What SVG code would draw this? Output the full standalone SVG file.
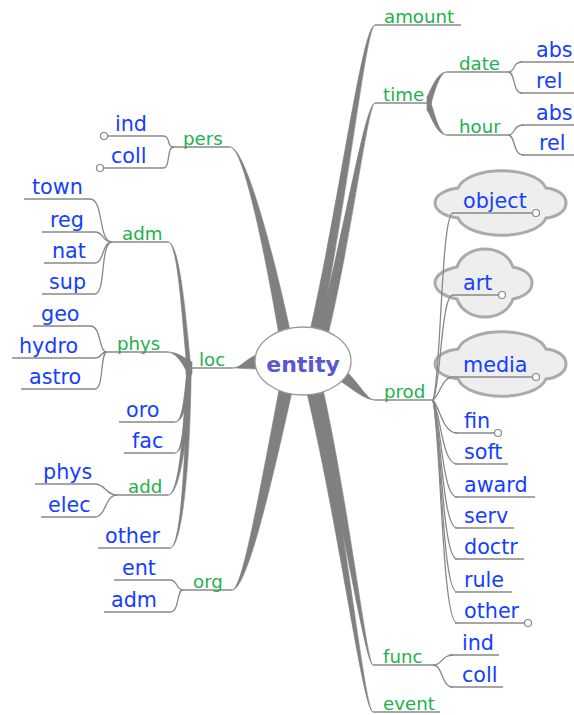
<svg xmlns="http://www.w3.org/2000/svg" width="574" height="715" viewBox="0 0 574 715">
<style>
.b{font-family:"DejaVu Sans",sans-serif;font-size:20.7px;fill:#1440ff}
.g{font-family:"DejaVu Sans",sans-serif;font-size:18.2px;fill:#22b14c}
.u{stroke:#888;stroke-width:1.3;fill:none}
.e{fill:#808080;stroke:#808080;stroke-width:0.6}
.c{fill:#fff;stroke:#888;stroke-width:1.2}
.cl{fill:#eeeeee;stroke:#aaaaaa;stroke-width:3}
</style>
<rect width="574" height="715" fill="#fff"/>
<g id="clouds">
<path class="cl" d="M435,203 C435,194 448,189 458,188 C468,165 536,165 546,188 C556,189 566,194 566,203 C566,212 556,217 546,218 C536,241 468,241 458,218 C448,217 435,212 435,203 Z"/>
<path class="cl" d="M435,283 C435,274 447,269 457,267 C465,243 505,243 513,267 C523,269 532,274 532,283 C532,292 523,297 513,299 C505,323 465,323 457,299 C447,297 435,292 435,283 Z"/>
<path class="cl" d="M435,364 C435,355 448,350 458,349 C468,326 536,326 546,349 C556,350 566,355 566,364 C566,373 556,378 546,379 C536,402 468,402 458,379 C448,378 435,373 435,364 Z"/>
</g>
<g id="connectors">
<path class="e" d="M230,147 C244,147 266,260 279,335 L291,335 C275,260 246,147 230,147 Z"/>
<path class="e" d="M375,25 C362,25 340,200 309,335 L319,335 C348,200 366,25 375,25 Z"/>
<path class="e" d="M375,103 C365,103 345,230 317,335 L328,335 C353,230 368,103 375,103 Z"/>
<path class="e" d="M375,400 C366,400 360,382 340,366 L336,378 C354,390 365,400 375,400 Z"/>
<path class="e" d="M232,368 C242,368 246,357 262,353 L262,369 C246,369 240,368 232,368 Z"/>
<path class="e" d="M232,590 C242,590 258,500 280,385 L293,387 C268,500 246,590 232,590 Z"/>
<path class="e" d="M373,665 C365,665 340,500 310,385 L322,385 C348,500 367,665 373,665 Z"/>
<path class="e" d="M373,712 C363,712 338,520 305,385 L317,385 C345,520 365,712 373,712 Z"/>
<rect class="e" x="186" y="362" width="6" height="12"/>
<path class="e" d="M168,242 C178,242 182,320 187,368 L191,368 C186,320 180,242 168,242 Z"/>
<path class="e" d="M168,352 C176,352 182,356 192,362 L188,374 C182,362 176,353 168,352 Z"/>
<path class="e" d="M175,422 C182,422 184,400 187,370 L191,370 C189,400 184,422 175,422 Z"/>
<path class="e" d="M175,453 C183,453 185,410 187,370 L191,370 C190,410 185,453 175,453 Z"/>
<path class="e" d="M168,495 C180,495 184,420 187,370 L191,370 C189,420 182,495 168,495 Z"/>
<path class="e" d="M170,548 C182,548 186,440 187,370 L191,370 C191,440 184,548 170,548 Z"/>
<rect class="e" x="427" y="97" width="4" height="13"/>
<path class="e" d="M447,72 C437,72 432,88 427,97 L431,104 C435,90 440,72 447,72 Z"/>
<path class="e" d="M447,135 C437,135 432,118 427,110 L431,103 C435,116 440,135 447,135 Z"/>
<path class="u" d="M508,72 C516,72 512,62 522,62"/>
<path class="u" d="M508,72 C516,72 512,93 522,93"/>
<path class="u" d="M508,135 C516,135 512,125 524,125"/>
<path class="u" d="M508,135 C516,135 512,155 524,155"/>
<path class="u" d="M163,136 C171,136 166,147 174,147"/>
<path class="u" d="M163,168 C171,168 166,147 174,147"/>
<path class="u" d="M90,199 C104,199 98,242 112,242"/>
<path class="u" d="M95,232 C104,232 102,242 112,242"/>
<path class="u" d="M95,263 C104,263 102,242 112,242"/>
<path class="u" d="M95,294 C106,294 100,242 112,242"/>
<path class="u" d="M90,326 C102,326 98,352 107,352"/>
<path class="u" d="M95,358 C102,358 100,352 107,352"/>
<path class="u" d="M95,389 C104,389 100,352 107,352"/>
<path class="u" d="M95,484 C106,484 105,495 117,495"/>
<path class="u" d="M95,517 C106,517 105,495 117,495"/>
<path class="u" d="M170,580 C178,580 176,590 183,590"/>
<path class="u" d="M170,612 C180,612 176,590 183,590"/>
<path class="u" d="M453,213 C441,213 441,380 433,400"/>
<path class="u" d="M453,295 C441,295 441,385 433,400"/>
<path class="u" d="M453,377 C442,377 440,395 433,400"/>
<path class="u" d="M457,433 C443,433 440,408 433,400"/>
<path class="u" d="M457,464 C442,464 441,415 433,400"/>
<path class="u" d="M457,497 C442,497 441,420 433,400"/>
<path class="u" d="M457,528 C442,528 441,425 433,400"/>
<path class="u" d="M457,559 C442,559 441,430 433,400"/>
<path class="u" d="M457,592 C442,592 441,435 433,400"/>
<path class="u" d="M457,623 C442,623 441,440 433,400"/>
<path class="u" d="M433,665 C443,665 441,655 453,655"/>
<path class="u" d="M433,665 C443,665 441,687 453,687"/>
</g>
<g id="entity">
<ellipse cx="303" cy="361" rx="48" ry="34" fill="#fff" stroke="#999" stroke-width="1.3"/>
<text x="303" y="372" text-anchor="middle" font-family="DejaVu Sans,sans-serif" font-size="22" font-weight="bold" fill="#5858d0">entity</text>
</g>
<g id="pers"><path class="u" d="M172,147H230"/><text class="g" x="183" y="145">pers</text></g>
<g id="pers-ind"><path class="u" d="M104,136H163"/><circle class="c" cx="104" cy="136" r="3.5"/><text class="b" x="115" y="131">ind</text></g>
<g id="pers-coll"><path class="u" d="M100,168H163"/><circle class="c" cx="100" cy="168" r="3.5"/><text class="b" x="111" y="163">coll</text></g>
<g id="loc"><path class="u" d="M190,368H232"/><text class="g" x="199" y="366">loc</text></g>
<g id="loc-adm"><path class="u" d="M110,242H168"/><text class="g" x="122" y="240">adm</text></g>
<g id="town"><path class="u" d="M24,199H90"/><text class="b" x="32" y="194">town</text></g>
<g id="reg"><path class="u" d="M42,232H95"/><text class="b" x="50" y="227">reg</text></g>
<g id="nat"><path class="u" d="M44,263H95"/><text class="b" x="52" y="258">nat</text></g>
<g id="sup"><path class="u" d="M42,294H95"/><text class="b" x="49" y="289">sup</text></g>
<g id="loc-phys"><path class="u" d="M105,352H168"/><text class="g" x="117" y="350">phys</text></g>
<g id="geo"><path class="u" d="M33,326H90"/><text class="b" x="41" y="321">geo</text></g>
<g id="hydro"><path class="u" d="M12,358H95"/><text class="b" x="19" y="353">hydro</text></g>
<g id="astro"><path class="u" d="M21,389H95"/><text class="b" x="29" y="384">astro</text></g>
<g id="oro"><path class="u" d="M119,422H175"/><text class="b" x="126" y="417">oro</text></g>
<g id="fac"><path class="u" d="M124,453H175"/><text class="b" x="132" y="448">fac</text></g>
<g id="add"><path class="u" d="M115,495H168"/><text class="g" x="128" y="493">add</text></g>
<g id="add-phys"><path class="u" d="M35,484H95"/><text class="b" x="43" y="479">phys</text></g>
<g id="elec"><path class="u" d="M41,517H95"/><text class="b" x="48" y="512">elec</text></g>
<g id="loc-other"><path class="u" d="M98,548H170"/><text class="b" x="105" y="543">other</text></g>
<g id="org"><path class="u" d="M181,590H232"/><text class="g" x="193" y="588">org</text></g>
<g id="ent"><path class="u" d="M114,580H170"/><text class="b" x="122" y="575">ent</text></g>
<g id="org-adm"><path class="u" d="M104,612H170"/><text class="b" x="111" y="607">adm</text></g>
<g id="amount"><path class="u" d="M375,25H461"/><text class="g" x="384" y="23">amount</text></g>
<g id="time"><path class="u" d="M375,103H427"/><text class="g" x="383" y="101">time</text></g>
<g id="date"><path class="u" d="M447,72H508"/><text class="g" x="459" y="70">date</text></g>
<g id="hour"><path class="u" d="M447,135H508"/><text class="g" x="459" y="133">hour</text></g>
<g id="date-abs"><path class="u" d="M520,62H574"/><text class="b" x="536" y="57">abs</text></g>
<g id="date-rel"><path class="u" d="M520,93H574"/><text class="b" x="536" y="88">rel</text></g>
<g id="hour-abs"><path class="u" d="M522,125H574"/><text class="b" x="536" y="120">abs</text></g>
<g id="hour-rel"><path class="u" d="M522,155H574"/><text class="b" x="539" y="150">rel</text></g>
<g id="prod"><path class="u" d="M375,400H433"/><text class="g" x="384" y="398">prod</text></g>
<g id="object"><path class="u" d="M453,213H536"/><circle class="c" cx="536" cy="213" r="3.5"/><text class="b" x="463" y="208">object</text></g>
<g id="art"><path class="u" d="M453,295H502"/><circle class="c" cx="502" cy="295" r="3.5"/><text class="b" x="463" y="290">art</text></g>
<g id="media"><path class="u" d="M453,377H536"/><circle class="c" cx="536" cy="377" r="3.5"/><text class="b" x="463" y="372">media</text></g>
<g id="fin"><path class="u" d="M455,433H498"/><circle class="c" cx="498" cy="433" r="3.5"/><text class="b" x="464" y="428">fin</text></g>
<g id="soft"><path class="u" d="M455,464H508"/><text class="b" x="464" y="459">soft</text></g>
<g id="award"><path class="u" d="M455,497H535"/><text class="b" x="464" y="492">award</text></g>
<g id="serv"><path class="u" d="M455,528H514"/><text class="b" x="464" y="523">serv</text></g>
<g id="doctr"><path class="u" d="M455,559H524"/><text class="b" x="464" y="554">doctr</text></g>
<g id="rule"><path class="u" d="M455,592H512"/><text class="b" x="464" y="587">rule</text></g>
<g id="prod-other"><path class="u" d="M455,623H528"/><circle class="c" cx="528" cy="623" r="3.5"/><text class="b" x="464" y="618">other</text></g>
<g id="func"><path class="u" d="M373,665H433"/><text class="g" x="383" y="663">func</text></g>
<g id="func-ind"><path class="u" d="M450,655H499"/><text class="b" x="462" y="650">ind</text></g>
<g id="func-coll"><path class="u" d="M450,687H503"/><text class="b" x="462" y="682">coll</text></g>
<g id="event"><path class="u" d="M373,712H440"/><text class="g" x="383" y="710">event</text></g>
</svg>
